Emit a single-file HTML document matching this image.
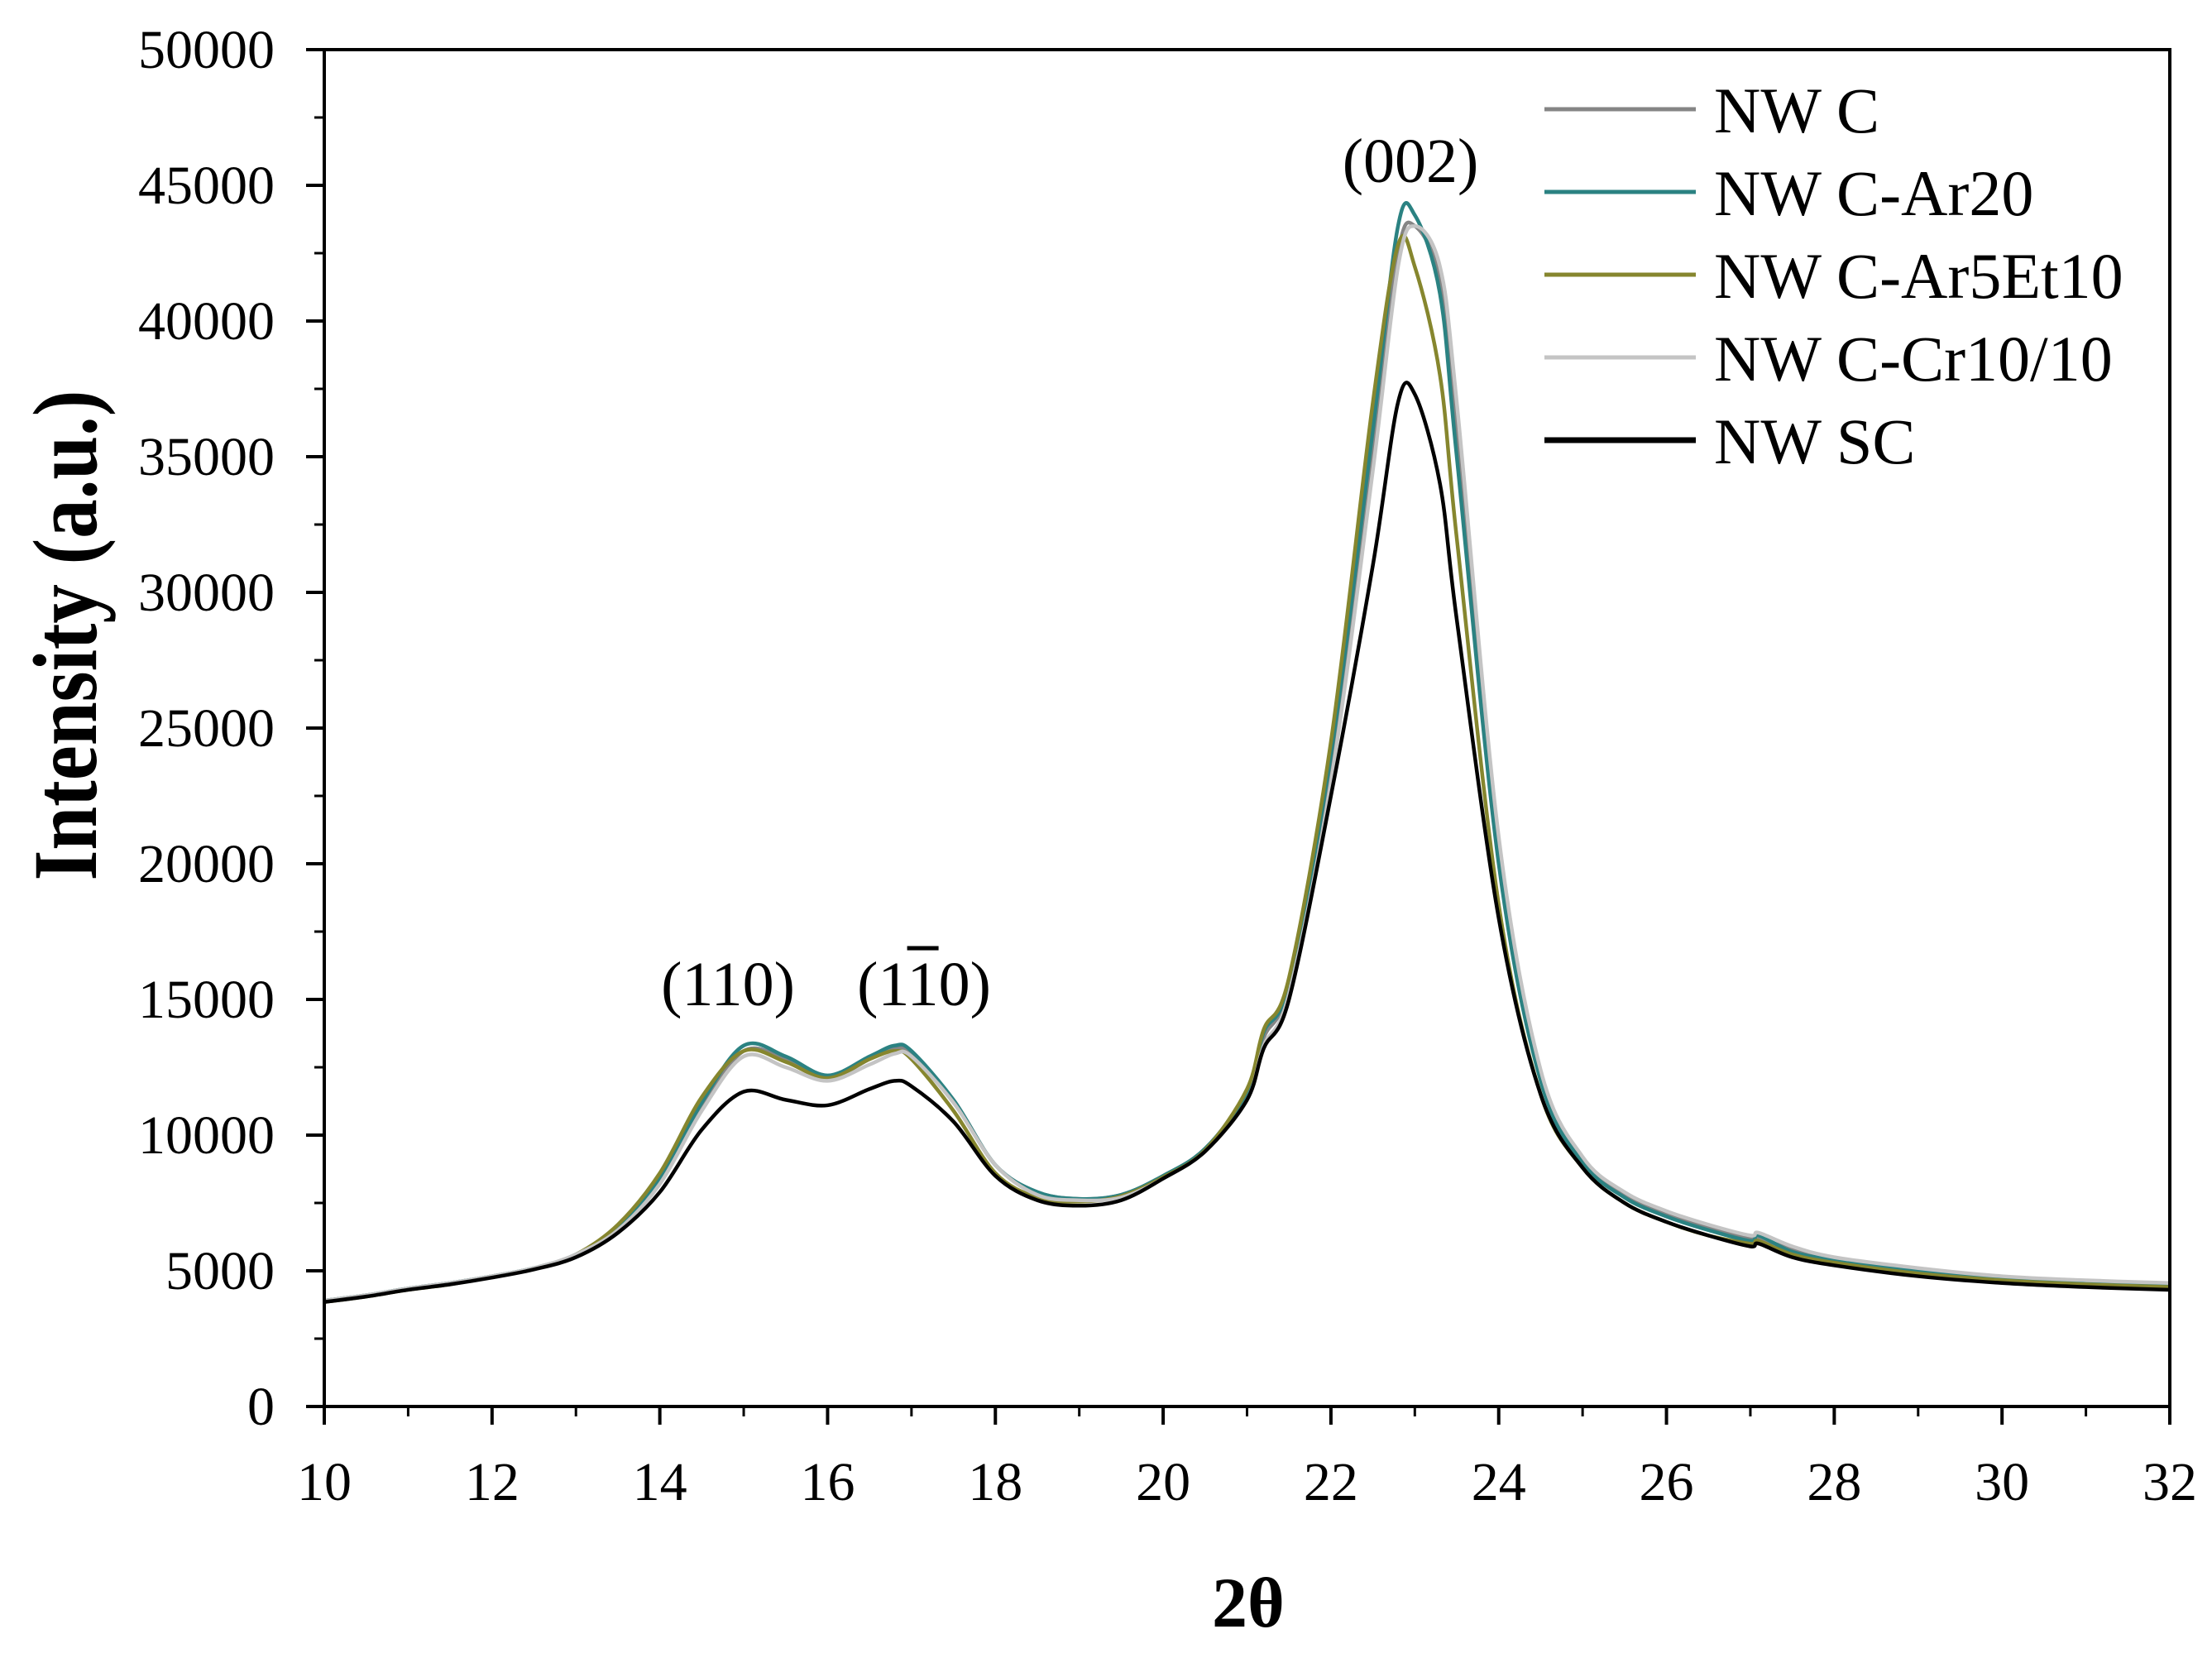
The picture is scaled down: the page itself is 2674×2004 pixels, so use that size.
<!DOCTYPE html>
<html><head><meta charset="utf-8"><style>
html,body{margin:0;padding:0;background:#fff;}
svg{display:block;font-family:"Liberation Serif",serif;}
</style></head><body>
<svg id="chart" width="2674" height="2004" viewBox="0 0 2674 2004" xmlns="http://www.w3.org/2000/svg">
<g id="series"></g>
<g id="axes"></g>
<text x="1509" y="1966" font-size="86" font-weight="bold" text-anchor="middle">2θ</text>
<text transform="translate(116,768) rotate(-90)" font-size="110" font-weight="bold" text-anchor="middle" textLength="593" lengthAdjust="spacingAndGlyphs">Intensity (a.u.)</text>
<text x="1705" y="220" font-size="76" text-anchor="middle">(002)</text>
<text x="880" y="1215" font-size="76" text-anchor="middle">(110)</text>
<text x="1117" y="1215" font-size="76" text-anchor="middle">(1<tspan text-decoration="overline">1</tspan>0)</text>
<g id="legend"></g>
</svg>
<script>
const xVals=[10,10.5,11,11.5,12,12.5,13,13.5,14,14.5,15,15.5,16,16.5,16.8,17,17.5,18,18.5,19,19.5,20,20.5,21,21.2,21.5,22,22.5,22.8,23,23.3,23.5,24,24.5,25,25.5,26,26.5,27,27.1,27.5,28,29,30,31,32];
const nwC=[3900,4100,4350,4550,4800,5100,5600,6600,8300,11000,13100,12800,12100,12800,13200,13000,11300,8900,7900,7650,7800,8500,9500,11500,13600,15500,23500,35000,42500,43500,41500,36000,20500,12200,9100,7800,7100,6600,6200,6200,5800,5450,5050,4780,4620,4500];
const ar20=[3900,4100,4350,4550,4800,5100,5600,6600,8400,11200,13300,12900,12200,12900,13300,13100,11300,8900,7900,7650,7800,8500,9500,11600,13800,15600,24000,36000,43500,43900,41000,35000,20000,12000,9000,7700,7000,6500,6100,6300,5700,5400,5000,4750,4600,4500];
const ar5Et10=[3850,4050,4300,4500,4780,5080,5600,6700,8600,11400,13100,12700,12100,12800,13100,12800,10900,8600,7700,7550,7750,8450,9450,11700,13900,15800,24500,37000,42800,42000,38000,32000,18500,11500,8800,7500,6800,6300,6000,6100,5600,5300,4900,4650,4500,4400];
const cr1010=[3900,4100,4350,4550,4800,5100,5600,6500,8200,10900,12900,12500,12000,12600,13000,12900,11200,8900,7800,7600,7700,8400,9400,11300,13300,15200,23000,34500,42000,43500,42000,37000,21000,12400,9200,7900,7200,6700,6300,6400,5900,5500,5100,4800,4650,4550];
const nwSC=[3850,4050,4300,4500,4750,5050,5500,6400,7900,10200,11600,11300,11100,11700,12000,11800,10500,8500,7600,7400,7600,8400,9400,11300,13200,15000,22500,31000,37000,37300,34000,29000,18000,11500,8800,7500,6800,6300,5900,6000,5500,5200,4800,4550,4400,4300];
const seriesNames=["NW C","NW C-Ar20","NW C-Ar5Et10","NW C-Cr10/10","NW SC"];
const seriesData=[nwC,ar20,ar5Et10,cr1010,nwSC];
const seriesColors=["#858585","#2b8282","#86862e","#c4c4c4","#000000"];
const xTicks=[10,12,14,16,18,20,22,24,26,28,30,32];
const yTicks=[0,5000,10000,15000,20000,25000,30000,35000,40000,45000,50000];

const L=392,R=2623,T=60,B=1700;
const xs=v=>L+(v-10)/(32-10)*(R-L);
const ys=v=>B-v/50000*(B-T);
const NS="http://www.w3.org/2000/svg";
function mk(tag,attrs,parent){const e=document.createElementNS(NS,tag);for(const k in attrs)e.setAttribute(k,attrs[k]);parent.appendChild(e);return e;}
const axes=document.getElementById('axes'),sg=document.getElementById('series'),lg=document.getElementById('legend');

function pathFor(arr){
  const p=xVals.map((x,i)=>[xs(x),ys(arr[i])]);
  let d="M"+p[0][0]+","+p[0][1];
  for(let i=0;i<p.length-1;i++){
    const p0=p[Math.max(0,i-1)],p1=p[i],p2=p[i+1],p3=p[Math.min(p.length-1,i+2)];
    const c1x=p1[0]+(p2[0]-p0[0])/6,c1y=p1[1]+(p2[1]-p0[1])/6;
    const c2x=p2[0]-(p3[0]-p1[0])/6,c2y=p2[1]-(p3[1]-p1[1])/6;
    d+=" C"+c1x+","+c1y+" "+c2x+","+c2y+" "+p2[0]+","+p2[1];
  }
  return d;
}
seriesData.forEach((arr,i)=>{
  const e=mk('path',{d:pathFor(arr),fill:"none",stroke:seriesColors[i],"stroke-width":4.5,"stroke-linejoin":"round"},sg);
  
  
});

const frame=mk('rect',{x:L,y:T,width:R-L,height:B-T,fill:"none",stroke:"#000","stroke-width":4},axes);


xTicks.forEach(v=>{
  const t=mk('line',{x1:xs(v),x2:xs(v),y1:B,y2:B+22,stroke:"#000","stroke-width":4},axes);
  
  
  const lb=mk('text',{x:xs(v),y:1813,"font-size":66,"text-anchor":"middle"},axes);
  lb.textContent=v;
  
  
});
for(let v=11;v<32;v+=2){
  const t=mk('line',{x1:xs(v),x2:xs(v),y1:B,y2:B+12,stroke:"#000","stroke-width":3},axes);
  
  
}
yTicks.forEach(v=>{
  const t=mk('line',{x1:L-22,x2:L,y1:ys(v),y2:ys(v),stroke:"#000","stroke-width":4},axes);
  
  
  const lb=mk('text',{x:332,y:ys(v)+22,"font-size":66,"text-anchor":"end"},axes);
  lb.textContent=v;
  
  
});
for(let v=2500;v<50000;v+=5000){
  const t=mk('line',{x1:L-12,x2:L,y1:ys(v),y2:ys(v),stroke:"#000","stroke-width":3},axes);
  
  
}
seriesNames.forEach((n,i)=>{
  const y=132+i*100;
  const ln=mk('line',{x1:1867,x2:2050,y1:y,y2:y,stroke:seriesColors[i],"stroke-width":i==4?7:5},lg);
  
  
  const tx=mk('text',{x:2072,y:y+28,"font-size":78},lg);
  tx.textContent=n;
  
  
});
</script>
</body></html>
